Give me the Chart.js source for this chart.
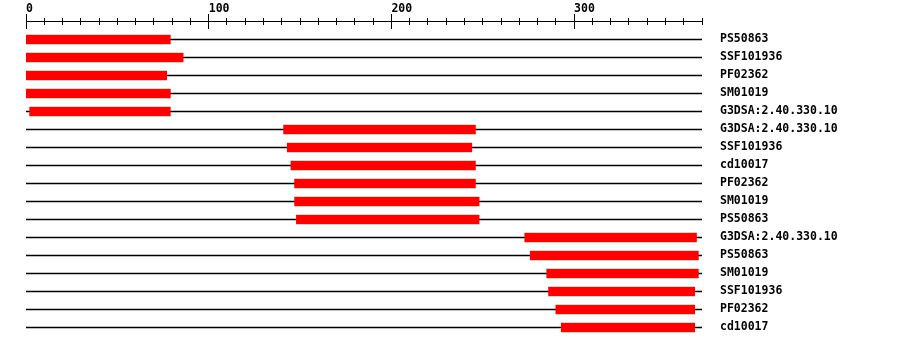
<!DOCTYPE html>
<html lang="en">
<head>
    <meta charset="UTF-8" />
    <title>Domain map</title>
    <script src="https://cdn.jsdelivr.net/npm/chart.js"></script>
    <style>
        html, body { margin: 0; padding: 0; background: #fff; }
        #wrap { width: 900px; height: 346px; }
    </style>
</head>
<body>
<div id="wrap"><canvas id="domainChart" width="900" height="346"></canvas></div>

<script>
    // Domain hits, one row each (top to bottom)
    const labels = [
        'PS50863', 'SSF101936', 'PF02362', 'SM01019', 'G3DSA:2.40.330.10',
        'G3DSA:2.40.330.10', 'SSF101936', 'cd10017', 'PF02362', 'SM01019', 'PS50863',
        'G3DSA:2.40.330.10', 'PS50863', 'SM01019', 'SSF101936', 'PF02362', 'cd10017'
    ];
    const starts = [0, 0, 0, 0, 2, 141, 143, 145, 147, 147, 148, 273, 276, 285, 286, 290, 293];
    const ends   = [79, 86, 77, 79, 79, 246, 244, 246, 246, 248, 248, 367, 368, 368, 366, 366, 366];

    // Sequence length and axis ticks
    const seqLength = 370;
    const majorTicks = [0, 100, 200, 300];
    const minorStep = 10;

    const font = { family: "'DejaVu Sans Mono', monospace", size: 11.5, weight: 'bold', lineHeight: 1.2 };

    // axis line + tick marks along the top scale
    const topAxis = {
        id: 'topAxis',
        afterDraw(chart) {
            const x = chart.scales.x;
            const ctx = chart.ctx;
            ctx.save();
            ctx.fillStyle = '#000';
            ctx.fillRect(x.left, 21, x.right - x.left, 1);
            for (let v = 0; v <= seqLength; v += minorStep) {
                const px = Math.floor(x.getPixelForValue(v));
                if (majorTicks.includes(v)) ctx.fillRect(px, 14, 1, 15);
                else ctx.fillRect(px, 18, 1, 7);
            }
            ctx.restore();
        }
    };

    new Chart(document.getElementById('domainChart'), {
        type: 'bar',
        data: {
            labels: labels,
            datasets: [
                {
                    label: 'hit',
                    data: starts.map((s, i) => [s, ends[i]]),
                    backgroundColor: '#ff0000',
                    barThickness: 9,
                    grouped: false,
                    borderWidth: 0
                },
                {
                    label: 'sequence',
                    data: labels.map(() => [0, seqLength]),
                    backgroundColor: '#000',
                    barThickness: 1,
                    grouped: false,
                    borderWidth: 0
                }
            ]
        },
        options: {
            indexAxis: 'y',
            responsive: false,
            animation: false,
            devicePixelRatio: 1,
            layout: { padding: { left: 26, right: 0, top: 0.5, bottom: 9.5 } },
            plugins: { legend: { display: false }, tooltip: { enabled: false } },
            scales: {
                x: {
                    type: 'linear',
                    position: 'top',
                    min: 0,
                    max: seqLength,
                    grid: { display: false, drawTicks: false },
                    border: { display: false },
                    afterFit(scale) { scale.height = 30; },
                    afterBuildTicks(scale) { scale.ticks = majorTicks.map(v => ({ value: v })); },
                    ticks: {
                        align: 'start',
                        padding: 15,
                        color: '#000',
                        font: font,
                        autoSkip: false,
                        maxRotation: 0
                    }
                },
                y: {
                    position: 'right',
                    grid: { display: false, drawTicks: false },
                    border: { display: false },
                    afterFit(scale) {
                        scale.width = 198;
                        // label padding must not shrink the plot vertically
                        scale.paddingTop = 0;
                        scale.paddingBottom = 0;
                    },
                    ticks: {
                        padding: 18,
                        color: '#000',
                        font: font,
                        autoSkip: false
                    }
                }
            }
        },
        plugins: [topAxis]
    });
</script>
</body>
</html>
